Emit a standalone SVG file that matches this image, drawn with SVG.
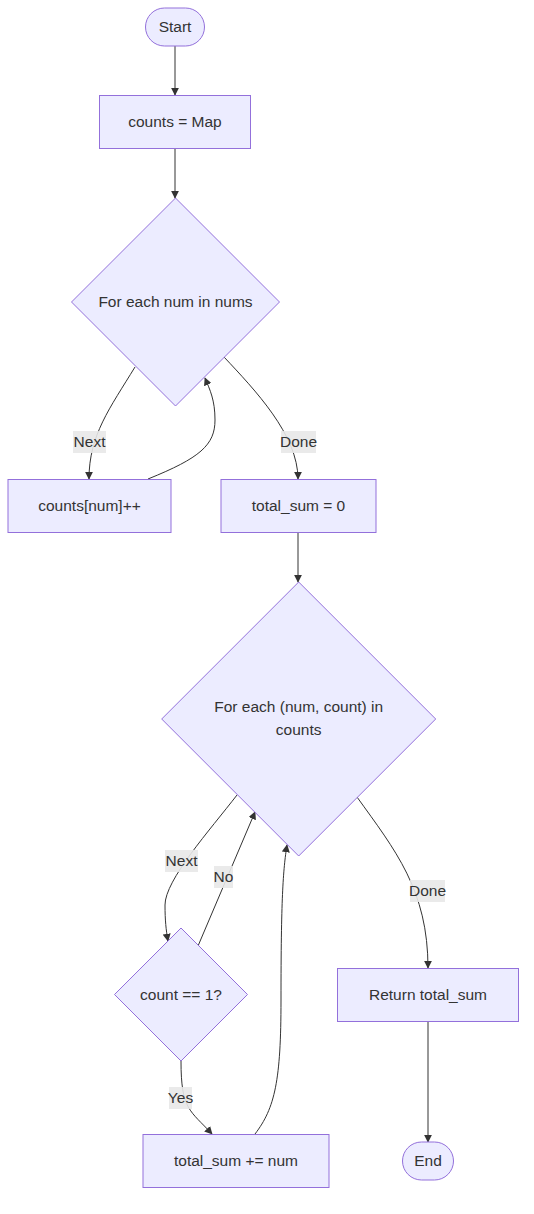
<svg xmlns="http://www.w3.org/2000/svg" width="534" height="1214" viewBox="0 0 534 1214">
<style>
.node{fill:#ECECFF;stroke:#9370DB;stroke-width:1}
.t{font-family:"Liberation Sans",Arial,sans-serif;font-size:15.5px;fill:#333;text-anchor:middle;dominant-baseline:central}
.e{fill:none;stroke:#333;stroke-width:1}
.lb{fill:#e8e8e8;opacity:0.9}
</style>
<defs>
<marker id="ah" viewBox="0 0 10 10" refX="9" refY="5" markerWidth="8" markerHeight="8" orient="auto-start-reverse" markerUnits="userSpaceOnUse">
<path d="M0,0 L10,5 L0,10 z" fill="#333"/>
</marker>
</defs>
<rect width="534" height="1214" fill="#fff"/>
<g id="edges">
<path class="e" d="M175,46 L175,95" marker-end="url(#ah)"/>
<path class="e" d="M175,148 L175,198" marker-end="url(#ah)"/>
<path class="e" d="M135,367 C110,408 89,435 89,479" marker-end="url(#ah)"/>
<path class="e" d="M148,479 C200,458 215,445 215,420 C215,400 210,390 205,378" marker-end="url(#ah)"/>
<path class="e" d="M224,357 C255,390 298,435 298,479" marker-end="url(#ah)"/>
<path class="e" d="M298,532 L298,582" marker-end="url(#ah)"/>
<path class="e" d="M237,795 C210,830 165,880 165,905 C165,920 166,930 168,941" marker-end="url(#ah)"/>
<path class="e" d="M198,946 L255,812" marker-end="url(#ah)"/>
<path class="e" d="M181,1061 C181,1110 190,1110 212,1134" marker-end="url(#ah)"/>
<path class="e" d="M255,1134 C275,1108 281,1080 281,1000 C281,900 283,870 287,845" marker-end="url(#ah)"/>
<path class="e" d="M357,797 C395,850 428,890 428,968" marker-end="url(#ah)"/>
<path class="e" d="M428,1021 L428,1142" marker-end="url(#ah)"/>
</g>
<g id="edge-labels">
<rect class="lb" x="73" y="431" width="33" height="22"/><text class="t" x="89.5" y="441.5">Next</text>
<rect class="lb" x="281" y="431" width="35" height="22"/><text class="t" x="298.5" y="441.5">Done</text>
<rect class="lb" x="165" y="850" width="33" height="22"/><text class="t" x="181.5" y="860.5">Next</text>
<rect class="lb" x="214" y="866" width="19" height="22"/><text class="t" x="223.5" y="876.5">No</text>
<rect class="lb" x="169" y="1087" width="23" height="22"/><text class="t" x="180.5" y="1097.5">Yes</text>
<rect class="lb" x="410" y="880" width="35" height="22"/><text class="t" x="427.5" y="890.5">Done</text>
</g>
<g id="start"><rect class="node" x="145.5" y="8" width="59" height="38" rx="19" ry="19"/><text class="t" x="175" y="26.5">Start</text></g>
<g id="init"><rect class="node" x="99.5" y="95.5" width="151" height="53"/><text class="t" x="175" y="121.5">counts = Map</text></g>
<g id="loop1"><polygon class="node" points="175.5,198 279.5,302 175.5,406 71.5,302"/><text class="t" x="175.5" y="301">For each num in nums</text></g>
<g id="inc"><rect class="node" x="8" y="479.5" width="163" height="53"/><text class="t" x="89.5" y="505.5">counts[num]++</text></g>
<g id="sum0"><rect class="node" x="221" y="479.5" width="155" height="53"/><text class="t" x="298.5" y="505.5">total_sum = 0</text></g>
<g id="loop2"><polygon class="node" points="298.7,582 435.7,719 298.7,856 161.7,719"/><text class="t" x="298.7" y="706.5">For each (num, count) in</text><text class="t" x="298.7" y="729.5">counts</text></g>
<g id="check"><polygon class="node" points="181,928 247.5,994.5 181,1061 114.5,994.5"/><text class="t" x="181" y="994.5">count == 1?</text></g>
<g id="add"><rect class="node" x="143" y="1134.5" width="186" height="53"/><text class="t" x="236" y="1160.5">total_sum += num</text></g>
<g id="ret"><rect class="node" x="337.5" y="968.5" width="181" height="53"/><text class="t" x="428" y="994.5">Return total_sum</text></g>
<g id="end"><rect class="node" x="402.5" y="1142" width="51" height="38" rx="19" ry="19"/><text class="t" x="428" y="1160.5">End</text></g>
</svg>
